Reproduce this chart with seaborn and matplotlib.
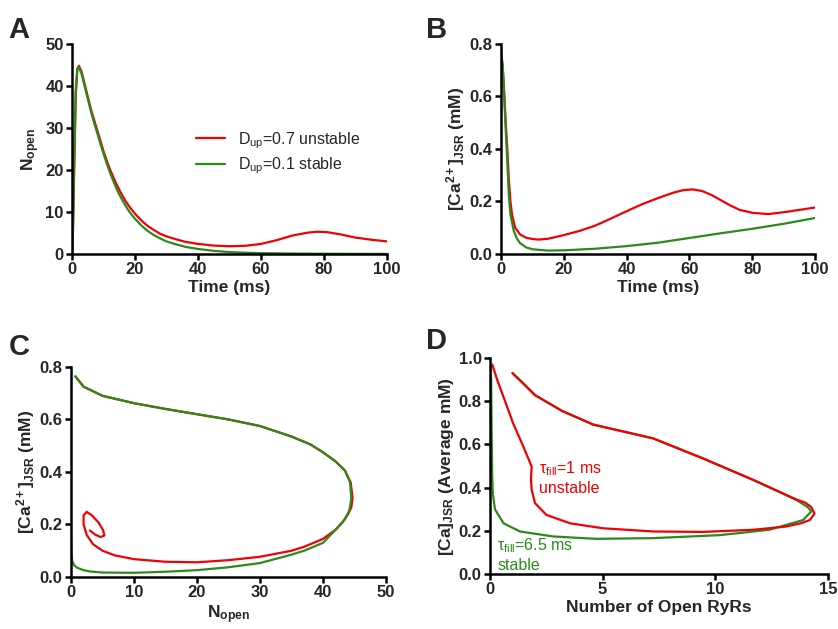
import matplotlib
matplotlib.use('Agg')
import matplotlib.pyplot as plt
import seaborn as sns

# panel A: N_open vs time
a_red_t = [0, 0.3, 0.7, 1.2, 1.7, 2.2, 3, 4, 5, 6, 7, 8, 9, 10, 11, 12, 13, 14, 15, 16, 17, 18, 19, 20,
           22, 24, 26, 28, 30, 33, 36, 40, 45, 50, 55, 60, 65, 70, 75, 78, 81, 85, 90, 95, 100]
a_red_n = [0, 5, 20, 38, 44, 44.8, 43.5, 40.5, 37.5, 34.5, 32, 29.5, 27, 24.5, 22.3, 20.3, 18.5, 16.8, 15.3,
           13.9, 12.6, 11.5, 10.5, 9.6, 8.0, 6.7, 5.7, 4.8, 4.2, 3.5, 2.9, 2.4, 2.0, 1.85, 1.95, 2.4, 3.3,
           4.4, 5.1, 5.3, 5.2, 4.7, 3.9, 3.4, 3.0]
a_grn_t = [0, 0.3, 0.7, 1.2, 1.7, 2.1, 3, 4, 5, 6, 7, 8, 9, 10, 11, 12, 13, 14, 15, 16, 17, 18, 19, 20,
           22, 24, 26, 28, 30, 33, 36, 40, 45, 50, 55, 60, 70, 80, 100]
a_grn_n = [0, 6, 22, 39, 44.2, 44.5, 43, 40, 37, 34, 31.3, 28.8, 26.3, 23.9, 21.6, 19.5, 17.6, 15.8, 14.2,
           12.8, 11.5, 10.3, 9.3, 8.4, 6.8, 5.5, 4.5, 3.7, 3.0, 2.3, 1.7, 1.2, 0.75, 0.45, 0.3, 0.2, 0.1,
           0.05, 0.02]

# panel B: [Ca2+]JSR vs time
b_red_t = [0, 0.5, 1, 1.5, 2, 2.5, 3, 3.5, 4.5, 6, 8, 10, 12, 15, 20, 25, 30, 35, 40, 45, 50, 55, 58, 61,
           64, 67, 70, 73, 76, 80, 85, 90, 95, 100]
b_red_c = [0.76, 0.72, 0.62, 0.5, 0.4, 0.28, 0.2, 0.15, 0.1, 0.075, 0.062, 0.057, 0.055, 0.058, 0.072,
           0.088, 0.108, 0.135, 0.163, 0.19, 0.213, 0.234, 0.243, 0.246, 0.24, 0.225, 0.205, 0.185, 0.168,
           0.157, 0.152, 0.159, 0.168, 0.177]
b_grn_t = [0, 0.5, 1, 1.5, 2, 2.5, 3, 4, 5, 6, 8, 10, 15, 20, 30, 40, 50, 60, 70, 80, 90, 100]
b_grn_c = [0.77, 0.72, 0.6, 0.47, 0.35, 0.22, 0.15, 0.09, 0.06, 0.042, 0.025, 0.018, 0.013, 0.014, 0.02,
           0.03, 0.043, 0.061, 0.079, 0.096, 0.115, 0.137]

# panel C: phase plane, N_open vs [Ca2+]JSR
c_red_n = [0.7, 2, 5, 10, 15, 20, 25, 30, 35, 38, 40, 42, 43.5, 44.4, 44.7, 44.5, 44, 43, 42, 40, 37, 35,
           30, 25, 20, 15, 10, 7, 5, 3.5, 2.5, 2.0, 2.0, 2.5, 3.3, 4.4, 5.1, 5.3, 4.7, 3.8, 3.0]
c_red_c = [0.764, 0.725, 0.69, 0.662, 0.64, 0.62, 0.6, 0.575, 0.535, 0.505, 0.475, 0.44, 0.405, 0.36,
           0.3, 0.265, 0.24, 0.205, 0.18, 0.145, 0.115, 0.1, 0.077, 0.064, 0.056, 0.058, 0.068, 0.082,
           0.1, 0.125, 0.16, 0.2, 0.235, 0.248, 0.235, 0.207, 0.178, 0.158, 0.152, 0.162, 0.177]
c_grn_n = [0.7, 2, 5, 10, 15, 20, 25, 30, 35, 38, 40, 42, 43.5, 44.3, 44.5, 44.2, 43.5, 42, 40, 37, 35,
           30, 25, 20, 15, 10, 5, 3, 2, 1, 0.5, 0.2, 0.05, 0]
c_grn_c = [0.764, 0.725, 0.69, 0.662, 0.64, 0.62, 0.6, 0.575, 0.535, 0.505, 0.475, 0.44, 0.405, 0.36,
           0.3, 0.255, 0.22, 0.18, 0.13, 0.1, 0.085, 0.053, 0.037, 0.026, 0.02, 0.016, 0.017, 0.021,
           0.026, 0.035, 0.045, 0.06, 0.09, 0.14]

# panel D: open RyRs vs average [Ca]JSR
d_red_n = [0.1, 0.35, 0.6, 1.03, 1.48, 1.7, 1.85, 1.82, 1.85, 2.0, 2.5, 3.55, 5.0, 7.24, 9.46, 11.7,
           13.15, 13.8, 14.2, 14.4, 14.26, 14.0, 13.6, 11.7, 9.46, 7.24, 4.58, 3.2, 2.0, 1.5, 1.0]
d_red_c = [0.97, 0.89, 0.82, 0.697, 0.59, 0.535, 0.497, 0.44, 0.39, 0.328, 0.274, 0.235, 0.212, 0.197,
           0.195, 0.205, 0.22, 0.235, 0.25, 0.28, 0.31, 0.33, 0.345, 0.435, 0.535, 0.628, 0.692, 0.755,
           0.828, 0.88, 0.93]
d_grn_n = [0.0, 0.05, 0.08, 0.1, 0.13, 0.22, 0.6, 1.33, 2.8, 4.7, 7.2, 10.2, 12.4, 13.9, 14.26, 14.1,
           13.6, 11.7, 9.46, 7.24, 4.58, 3.2, 2.0, 1.5, 1.0]
d_grn_c = [1.0, 0.9, 0.6, 0.45, 0.37, 0.3, 0.235, 0.197, 0.174, 0.163, 0.166, 0.18, 0.205, 0.25, 0.29,
           0.31, 0.343, 0.435, 0.535, 0.628, 0.692, 0.755, 0.828, 0.88, 0.93]

RED = '#f00000'
GREEN = '#2a8a1a'

sns.set_style('ticks')
plt.rcParams['font.family'] = ['Liberation Sans', 'DejaVu Sans']
plt.rcParams['mathtext.fontset'] = 'custom'
plt.rcParams['mathtext.rm'] = 'Liberation Sans'
plt.rcParams['mathtext.bf'] = 'Liberation Sans:bold'
plt.rcParams['mathtext.it'] = 'Liberation Sans:italic'

fig = plt.figure(figsize=(8.38, 6.29), dpi=100)
axA = fig.add_axes([0.0859, 0.5962, 0.3759, 0.3339])
axB = fig.add_axes([0.5979, 0.5962, 0.3747, 0.3339])
axC = fig.add_axes([0.0847, 0.0827, 0.3759, 0.3339])
axD = fig.add_axes([0.5847, 0.0874, 0.4033, 0.3434])


def style(ax):
    sns.despine(ax=ax)
    for s in ['left', 'bottom']:
        ax.spines[s].set_linewidth(1.8)
        ax.spines[s].set_color('black')
    ax.tick_params(width=1.8, length=4, labelsize=12, color='black', pad=2)
    for lab in ax.get_xticklabels() + ax.get_yticklabels():
        lab.set_fontweight('bold')


def curve(ax, x, y, color, label=None):
    sns.lineplot(x=x, y=y, ax=ax, color=color, lw=1.6, sort=False, estimator=None,
                 errorbar=None, label=label)


curve(axA, a_red_t, a_red_n, RED, r'D$_{\mathrm{up}}$=0.7 unstable')
curve(axA, a_grn_t, a_grn_n, GREEN, r'D$_{\mathrm{up}}$=0.1 stable')
axA.set_xlim(0, 100)
axA.set_ylim(0, 50)
axA.set_xticks(range(0, 101, 20))
axA.set_yticks(range(0, 51, 10))
axA.set_xlabel('Time (ms)', fontsize=12.5, fontweight='bold', labelpad=2)
axA.set_ylabel(r'N$_{\mathbf{open}}$', fontsize=12.5, fontweight='bold', labelpad=2)
axA.legend(frameon=False, fontsize=11.5, handlelength=1.8, loc='upper left',
           bbox_to_anchor=(0.375, 0.62), borderaxespad=0, labelspacing=0.3)
style(axA)

curve(axB, b_red_t, b_red_c, RED)
curve(axB, b_grn_t, b_grn_c, GREEN)
axB.set_xlim(0, 100)
axB.set_ylim(0, 0.8)
axB.set_xticks(range(0, 101, 20))
axB.set_yticks([0, 0.2, 0.4, 0.6, 0.8])
axB.set_yticklabels(['0.0', '0.2', '0.4', '0.6', '0.8'])
axB.set_xlabel('Time (ms)', fontsize=12.5, fontweight='bold', labelpad=2)
axB.set_ylabel(r'[Ca$^{\mathbf{2+}}$]$_{\mathbf{JSR}}$ (mM)', fontsize=12.5, fontweight='bold', labelpad=2)
style(axB)

curve(axC, c_red_n, c_red_c, RED)
curve(axC, c_grn_n, c_grn_c, GREEN)
axC.set_xlim(0, 50)
axC.set_ylim(0, 0.8)
axC.set_xticks(range(0, 51, 10))
axC.set_yticks([0, 0.2, 0.4, 0.6, 0.8])
axC.set_yticklabels(['0.0', '0.2', '0.4', '0.6', '0.8'])
axC.set_xlabel(r'N$_{\mathbf{open}}$', fontsize=12.5, fontweight='bold', labelpad=2)
axC.set_ylabel(r'[Ca$^{\mathbf{2+}}$]$_{\mathbf{JSR}}$ (mM)', fontsize=12.5, fontweight='bold', labelpad=2)
style(axC)

curve(axD, d_grn_n, d_grn_c, GREEN)
curve(axD, d_red_n, d_red_c, RED)
axD.set_xlim(0, 15)
axD.set_ylim(0, 1.0)
axD.set_xticks([0, 5, 10, 15])
axD.set_yticks([0, 0.2, 0.4, 0.6, 0.8, 1.0])
axD.set_yticklabels(['0.0', '0.2', '0.4', '0.6', '0.8', '1.0'])
axD.set_xlabel('Number of Open RyRs', fontsize=12.5, fontweight='bold', labelpad=2)
axD.set_ylabel(r'[Ca]$_{\mathbf{JSR}}$ (Average mM)', fontsize=12.5, fontweight='bold', labelpad=2)
axD.text(2.17, 0.489, r'τ$_{\mathrm{fill}}$=1 ms', color=RED, fontsize=11.5, va='center')
axD.text(2.17, 0.394, 'unstable', color=RED, fontsize=11.5, va='center')
axD.text(0.33, 0.13, r'τ$_{\mathrm{fill}}$=6.5 ms', color=GREEN, fontsize=11.5, va='center')
axD.text(0.33, 0.038, 'stable', color=GREEN, fontsize=11.5, va='center')
style(axD)

fig.text(0.010, 0.975, 'A', fontsize=21, fontweight='bold', va='top')
fig.text(0.508, 0.975, 'B', fontsize=21, fontweight='bold', va='top')
fig.text(0.010, 0.470, 'C', fontsize=21, fontweight='bold', va='top')
fig.text(0.508, 0.480, 'D', fontsize=21, fontweight='bold', va='top')

fig.savefig('out.png', dpi=100)
